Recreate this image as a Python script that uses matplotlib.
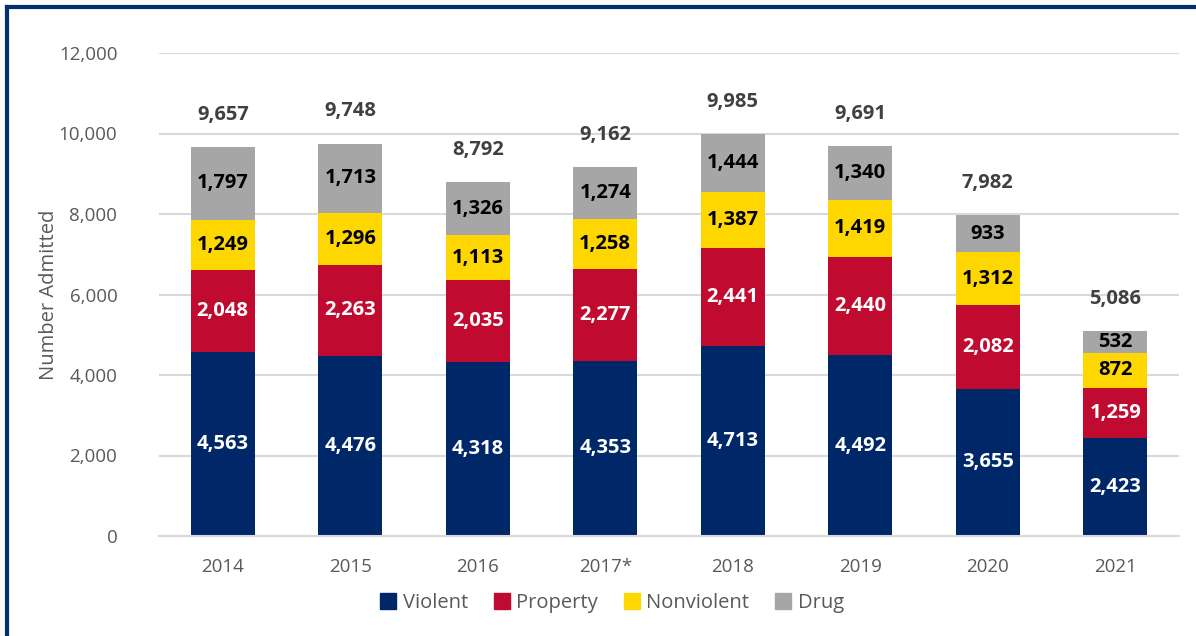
import numpy as np
import matplotlib.pyplot as plt
from matplotlib.lines import Line2D

plt.rcParams['font.family'] = ['Open Sans', 'DejaVu Sans']

years = ['2014', '2015', '2016', '2017*', '2018', '2019', '2020', '2021']
violent = [4563, 4476, 4318, 4353, 4713, 4492, 3655, 2423]
property_ = [2048, 2263, 2035, 2277, 2441, 2440, 2082, 1259]
nonviolent = [1249, 1296, 1113, 1258, 1387, 1419, 1312, 872]
drug = [1797, 1713, 1326, 1274, 1444, 1340, 933, 532]
totals = [9657, 9748, 8792, 9162, 9985, 9691, 7982, 5086]

series = [
    ('Violent', violent, '#002868', 'white'),
    ('Property', property_, '#C00A2F', 'white'),
    ('Nonviolent', nonviolent, '#FFD700', 'black'),
    ('Drug', drug, '#A6A6A6', 'black'),
]

fig = plt.figure(figsize=(11.96, 6.36), dpi=100)
ax = fig.add_axes([159 / 1196, 100 / 636, 1020 / 1196, 483 / 636])

x = np.arange(len(years))
bottom = np.zeros(len(years))
for name, vals, color, tcolor in series:
    vals = np.array(vals)
    bars = ax.bar(x, vals, 0.5, bottom=bottom, color=color, label=name, zorder=2)
    labels = [f'{v:,}' for v in vals]
    ax.bar_label(bars, labels=labels, label_type='center', color=tcolor,
                 fontsize=14.5, fontweight='bold')
    bottom += vals

# totals above each stack
for xi, t in zip(x, totals):
    ax.annotate(f'{t:,}', (xi, t), xytext=(0, 16), textcoords='offset points',
                ha='center', va='bottom', fontsize=14.5, fontweight='bold', color='#404040')

ax.set_ylim(0, 12000)
ax.set_xlim(-0.5, len(years) - 0.5)
ax.set_yticks(range(0, 12001, 2000))
ax.set_yticklabels([f'{v:,}' for v in range(0, 12001, 2000)])
ax.set_xticks(x)
ax.set_xticklabels(years)
ax.tick_params(axis='both', length=0, labelsize=13.5, labelcolor='#595959')
ax.tick_params(axis='y', pad=30)
ax.tick_params(axis='x', pad=16)
ax.grid(axis='y', color='#D9D9D9', linewidth=1.5, zorder=0)
for s in ['top', 'right', 'left']:
    ax.spines[s].set_visible(False)
ax.spines['bottom'].set_color('#D9D9D9')
ax.spines['bottom'].set_linewidth(1.5)
ax.set_ylabel('Number Admitted', fontsize=14.5, color='#595959', labelpad=0)

handles = [Line2D([], [], marker='s', linestyle='', markersize=12,
                  markerfacecolor=c, markeredgecolor=c) for _, _, c, _ in series]
fig.legend(handles, [s[0] for s in series], loc='center', bbox_to_anchor=(612 / 1196, 1 - 603 / 636),
           ncol=4, frameon=False, fontsize=14.5, labelcolor='#595959',
           handlelength=0.8, handletextpad=0.3, columnspacing=1.3)

# frame around the figure
fig.add_artist(Line2D([7 / 1196, 1], [1 - 6.5 / 636, 1 - 6.5 / 636], color='#00306E', linewidth=3))
fig.add_artist(Line2D([7 / 1196, 7 / 1196], [0, 1 - 6.5 / 636], color='#00306E', linewidth=3))

fig.savefig('out.png', dpi=100)
